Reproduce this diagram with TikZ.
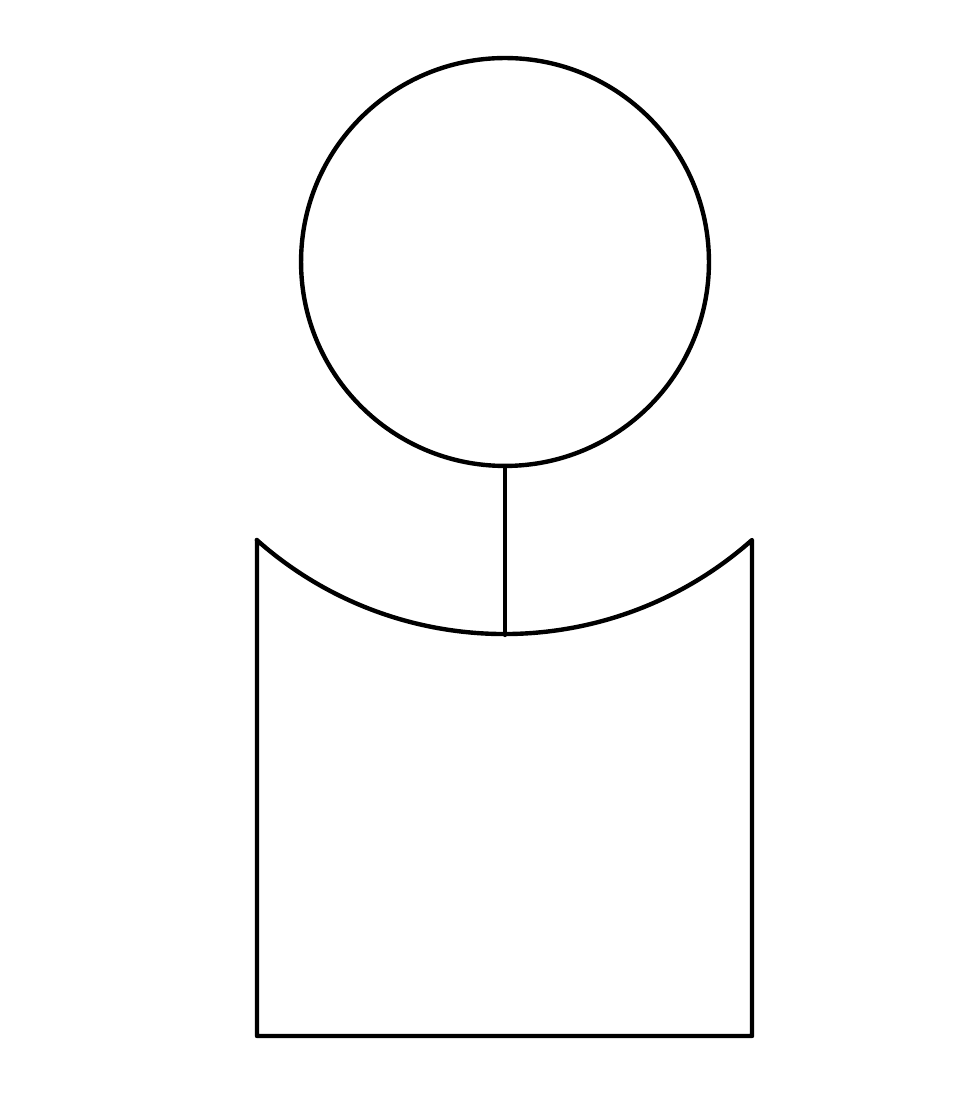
\documentclass[tikz,border=0pt]{standalone}
\begin{document}
\begin{tikzpicture}[x=0.02cm,y=0.02cm,
  outline/.style={draw=black, line width=2.5pt, line join=round, line cap=round}]
\useasboundingbox (0,0) rectangle (960,1111);
\node[outline, circle, minimum size=8.16cm, inner sep=0pt] (head) at (505,849) {};
\coordinate (tl) at (257,571);
\coordinate (tr) at (752,571);
\coordinate (bl) at (257,75);
\coordinate (br) at (752,75);
\coordinate (neck) at (505,476);
\draw[outline] (tl) -- (bl) -- (br) -- (tr) arc[start angle=-48.4, end angle=-131.6, radius=373];
\draw[outline] (head.south) -- (neck);
\end{tikzpicture}
\end{document}
